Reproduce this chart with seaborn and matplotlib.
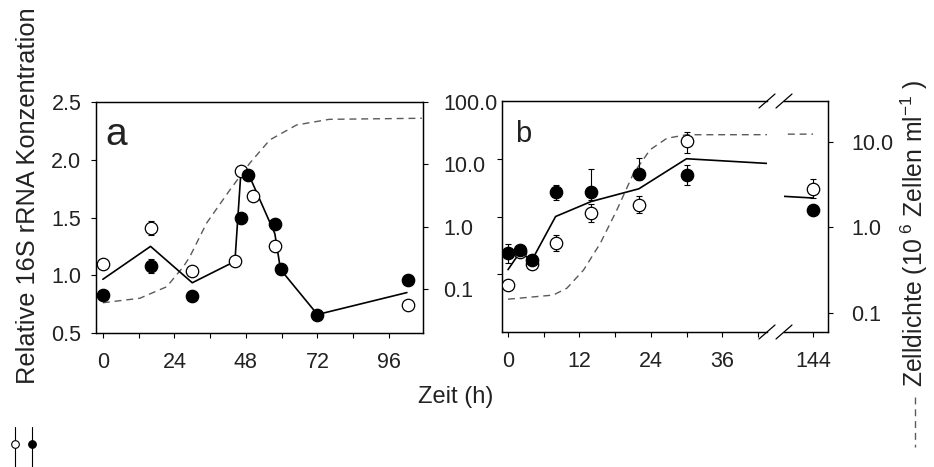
import numpy as np
import matplotlib
matplotlib.use("Agg")
import matplotlib.pyplot as plt
import seaborn as sns
from matplotlib.lines import Line2D
from matplotlib.ticker import FixedLocator, NullLocator, FixedFormatter, NullFormatter

# ---------------- data: panel a ----------------
a_open_t = [0, 16, 30, 44.3, 46.2, 50.4, 57.7, 102.5]
a_open = [1.10, 1.41, 1.04, 1.12, 1.90, 1.69, 1.25, 0.74]
a_open_lo = [0, 0.06, 0, 0, 0, 0, 0, 0]
a_open_hi = [0, 0.06, 0, 0, 0, 0, 0, 0]

a_fill_t = [0, 16, 30, 46.5, 48.8, 57.7, 59.6, 72, 102.5]
a_fill = [0.83, 1.08, 0.82, 1.50, 1.87, 1.44, 1.05, 0.66, 0.96]
a_fill_lo = [0, 0.06, 0, 0, 0, 0, 0, 0, 0]
a_fill_hi = [0, 0.06, 0, 0, 0, 0, 0, 0, 0]

a_mean_t = [0, 16, 30, 44.3, 46.2, 48.8, 57.7, 59.6, 72, 102]
a_mean = [0.965, 1.25, 0.935, 1.12, 1.85, 1.88, 1.36, 1.05, 0.66, 0.85]

a_dens_t = [0, 12.4, 21.4, 27, 29.2, 34.8, 42.6, 49.3, 56, 65, 76, 107]
a_dens = [0.061, 0.072, 0.11, 0.23, 0.335, 1.15, 3.9, 10.5, 24.7, 42.9, 52.8, 54.9]

# ---------------- data: panel b ----------------
b_open_t = [0, 2, 4, 8, 14, 22, 30, 144]
b_open = [0.91, 1.19, 1.09, 1.27, 1.53, 1.60, 2.15, 1.74]
b_open_lo = [0, 0.02, 0.02, 0.067, 0.08, 0.07, 0.10, 0.08]
b_open_hi = [0, 0.02, 0.02, 0.066, 0.08, 0.078, 0.078, 0.087]

b_fill_t = [0, 2, 4, 8, 14, 22, 30, 144]
b_fill = [1.18, 1.21, 1.12, 1.71, 1.71, 1.87, 1.86, 1.56]
b_fill_lo = [0.08, 0.03, 0.02, 0.07, 0.07, 0.05, 0.09, 0]
b_fill_hi = [0.08, 0.03, 0.02, 0.067, 0.20, 0.136, 0.09, 0]

b_mean_t = [0, 2, 4, 8, 14, 22, 30, 144]
b_mean = [1.04, 1.19, 1.12, 1.50, 1.63, 1.74, 2.00, 1.66]

b_dens_t = [0, 7.6, 9.9, 12.7, 15.5, 18.3, 21.1, 23.9, 26.7, 30, 144]
b_dens = [0.145, 0.162, 0.195, 0.318, 0.65, 1.6, 4.3, 8.1, 11.0, 12.1, 12.3]

# ---------------- style ----------------
sns.set_theme(style="ticks")
plt.rcParams["font.family"] = ["Liberation Sans", "DejaVu Sans"]
plt.rcParams["mathtext.fontset"] = "custom"
plt.rcParams["mathtext.rm"] = "Liberation Sans"
plt.rcParams["mathtext.it"] = "Liberation Sans:italic"
plt.rcParams["mathtext.bf"] = "Liberation Sans:bold"
plt.rcParams["axes.linewidth"] = 0.9
TXT = "#222222"
DASH = "#5a5a5a"
TICKFS = 15.5

W, H = 934, 467
fig = plt.figure(figsize=(W / 100, H / 100), dpi=100)
fig.patch.set_facecolor("white")


def rect(x0, x1, ytop, ybot):
    return [x0 / W, (H - ybot) / H, (x1 - x0) / W, (ybot - ytop) / H]


def draw_points(ax, t, v, lo, hi, filled):
    t = np.asarray(t, float)
    v = np.asarray(v, float)
    lo = np.asarray(lo, float)
    hi = np.asarray(hi, float)
    m = (lo > 0) | (hi > 0)
    if m.any():
        ax.errorbar(t[m], v[m], yerr=[lo[m], hi[m]], fmt="none", ecolor="black",
                    elinewidth=0.8, capsize=2.2, capthick=0.8, zorder=2)
    sns.scatterplot(x=t, y=v, ax=ax, s=80, color="black" if filled else "white",
                    edgecolor="black", linewidth=0.9, zorder=4, legend=False)


def style_ax(ax):
    for s in ax.spines.values():
        s.set_color("black")
        s.set_linewidth(0.9)
    ax.tick_params(which="both", direction="out", length=3.5, width=0.8,
                   colors="black", labelsize=TICKFS, labelcolor=TXT)
    ax.grid(False)


# ================= panel a =================
axa = fig.add_axes(rect(96, 423, 102, 333))
axa_r = axa.twinx()
style_ax(axa)
style_ax(axa_r)

axa_r.set_yscale("log")
axa_r.set_ylim(0.02, 100)
sns.lineplot(x=a_dens_t, y=a_dens, ax=axa_r, color=DASH, lw=1.0,
             sort=False, estimator=None, legend=False)
axa_r.lines[-1].set_dashes([5, 3.5])

sns.lineplot(x=a_mean_t, y=a_mean, ax=axa, color="black", lw=1.2,
             sort=False, estimator=None, legend=False, zorder=3)
draw_points(axa, a_open_t, a_open, a_open_lo, a_open_hi, False)
draw_points(axa, a_fill_t, a_fill, a_fill_lo, a_fill_hi, True)

axa.set_xlim(-2.3, 107.4)
axa.set_ylim(0.5, 2.5)
axa.xaxis.set_major_locator(FixedLocator([0, 24, 48, 72, 96]))
axa.xaxis.set_minor_locator(FixedLocator([12, 36, 60, 84]))
axa.set_xticklabels(["0", "24", "48", "72", "96"])
axa.yaxis.set_major_locator(FixedLocator([0.5, 1.0, 1.5, 2.0, 2.5]))
axa.set_yticklabels(["0.5", "1.0", "1.5", "2.0", "2.5"])
axa.tick_params(axis="y", pad=7)
axa.tick_params(axis="x", pad=10)
axa_r.yaxis.set_major_locator(FixedLocator([0.1, 1, 10, 100]))
axa_r.yaxis.set_minor_locator(NullLocator())
axa_r.yaxis.set_major_formatter(FixedFormatter(["0.1", "1.0", "10.0", "100.0"]))
axa_r.tick_params(axis="y", pad=11)
axa.set_xlabel("")
axa.set_ylabel("")
axa_r.set_ylabel("")
axa.set_zorder(axa_r.get_zorder() + 1)
axa.patch.set_visible(False)
axa.text(0.028, 0.814, "a", transform=axa.transAxes, fontsize=28,
         va="baseline", ha="left", color=TXT)

# ================= panel b (broken x axis) =================
XL, XR = 767, 784
axb = fig.add_axes(rect(502, XL, 101, 332))
axb2 = fig.add_axes(rect(XR, 828, 101, 332))
axb_r = axb.twinx()
axb2_r = axb2.twinx()
for a in (axb, axb2, axb_r, axb2_r):
    style_ax(a)

for dax in (axb_r, axb2_r):
    dax.set_yscale("log")
    dax.set_ylim(0.06, 30)
    sns.lineplot(x=b_dens_t, y=b_dens, ax=dax, color=DASH, lw=1.0,
                 sort=False, estimator=None, legend=False)
    dax.lines[-1].set_dashes([5, 3.5])
    dax.set_ylabel("")

for bax in (axb, axb2):
    sns.lineplot(x=b_mean_t, y=b_mean, ax=bax, color="black", lw=1.2,
                 sort=False, estimator=None, legend=False, zorder=3)
    draw_points(bax, b_open_t, b_open, b_open_lo, b_open_hi, False)
    draw_points(bax, b_fill_t, b_fill, b_fill_lo, b_fill_hi, True)
    bax.set_ylim(0.5, 2.5)
    bax.set_xlabel("")
    bax.set_ylabel("")

axb.set_zorder(axb_r.get_zorder() + 1)
axb.patch.set_visible(False)
axb2.set_zorder(axb2_r.get_zorder() + 1)
axb2.patch.set_visible(False)

scale = 5.95
axb.set_xlim((502 - 508) / scale, (XL - 508) / scale)
axb2.set_xlim(144 - (813 - XR) / scale, 144 + (828 - 813) / scale)
axb.xaxis.set_major_locator(FixedLocator([0, 12, 24, 36]))
axb.xaxis.set_minor_locator(FixedLocator([6, 18, 30, 42]))
axb.set_xticklabels(["0", "12", "24", "36"])
axb2.xaxis.set_major_locator(FixedLocator([144]))
axb2.xaxis.set_minor_locator(NullLocator())
axb2.set_xticklabels(["144"])
for bax in (axb, axb2):
    bax.tick_params(axis="x", pad=10)

axb.yaxis.set_major_locator(FixedLocator([1.0, 1.5, 2.0]))
axb.yaxis.set_major_formatter(NullFormatter())
axb2.yaxis.set_major_locator(NullLocator())
axb2.yaxis.set_minor_locator(NullLocator())
axb_r.yaxis.set_major_locator(NullLocator())
axb_r.yaxis.set_minor_locator(NullLocator())
axb2_r.yaxis.set_major_locator(FixedLocator([0.1, 1, 10]))
axb2_r.yaxis.set_minor_locator(NullLocator())
axb2_r.yaxis.set_major_formatter(FixedFormatter(["0.1", "1.0", "10.0"]))
axb2_r.tick_params(axis="y", pad=13)

axb.spines["right"].set_visible(False)
axb_r.spines["right"].set_visible(False)
axb2.spines["left"].set_visible(False)
axb2_r.spines["left"].set_visible(False)

axb.text(0.049, 0.822, "b", transform=axb.transAxes, fontsize=21,
         va="baseline", ha="left", color=TXT)

# break marks
for cx in (XL, XR):
    for cy in (101, 332):
        fig.add_artist(Line2D([(cx - 8) / W, (cx + 8) / W],
                              [(H - cy - 7) / H, (H - cy + 7) / H],
                              color="black", lw=0.9, transform=fig.transFigure))

# ---------------- labels ----------------
fig.text(28 / W, 1 - 196 / H, "Relative 16S rRNA Konzentration", rotation=90,
         ha="center", va="center", fontsize=18.3, color=TXT)
fig.text(456 / W, 1 - 397 / H, "Zeit (h)", ha="center", va="center",
         fontsize=17, color=TXT)
fig.text(914 / W, 1 - 233 / H, r"Zelldichte (10$^{\ 6}$ Zellen ml$^{-1}$ )",
         rotation=90, ha="center", va="center", fontsize=17.8, color=TXT)

# legend keys
for x, fc in ((15, "white"), (32, "black")):
    fig.add_artist(Line2D([x / W, x / W], [1 - 427 / H, 0.0], color="black",
                          lw=0.8, transform=fig.transFigure))
    fig.add_artist(Line2D([x / W], [1 - 444 / H], marker="o", markersize=5.5,
                          markerfacecolor=fc, markeredgecolor="black",
                          markeredgewidth=0.8, linestyle="none",
                          transform=fig.transFigure))
fig.add_artist(Line2D([915 / W, 915 / W], [1 - 397 / H, 1 - 447 / H],
                      color=DASH, lw=1.0, dashes=[5, 3.5],
                      transform=fig.transFigure))

fig.savefig("out.png", dpi=100, facecolor="white")
